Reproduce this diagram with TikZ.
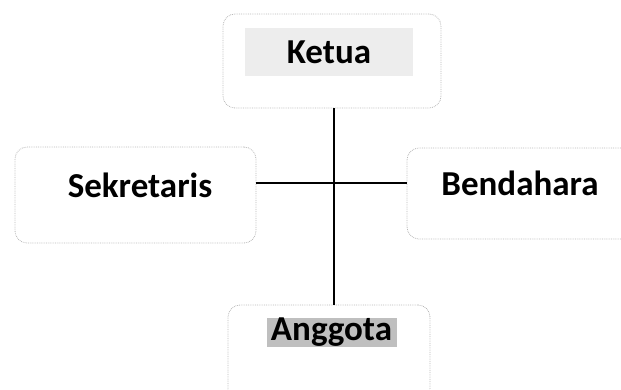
\documentclass[tikz,border=0pt]{standalone}
\usepackage{fontspec}
\setmainfont{Carlito}
\usepackage{tikz}
\usetikzlibrary{positioning}

\begin{document}
\begin{tikzpicture}[
	x=1pt, y=1pt,
	texts/.style = {font=\fontsize{35}{40}\selectfont\bfseries, text=black, inner sep=0pt},
	boxline/.style = {draw=gray!55, line width=0.8pt, densely dotted},
	orgbox/.style = {boxline, rectangle, rounded corners=12pt, fill=white},
	lightmark/.style = {texts, fill=gray!14},
	darkmark/.style = {texts, fill=gray!50},
	orgline/.style = {draw=black, line width=1.1pt}
]
	\useasboundingbox (0,0) rectangle (621,389);
	\clip (0,0) rectangle (621,389);

	% boxes
	\node[orgbox, minimum width=218pt, minimum height=94pt] (ketua) at (332,328) {};
	\node[orgbox, minimum width=241pt, minimum height=96pt] (sekretaris) at (135.5,194) {};
	\node[orgbox, minimum width=226pt, minimum height=91pt] (bendahara) at (520,195.5) {};
	\node[orgbox, minimum width=202pt, minimum height=96pt] (anggota) at (329,36) {};

	% connectors
	\draw[orgline] (ketua.south -| 334,0) -- (anggota.north -| 334,0);
	\draw[orgline] (sekretaris.east |- 0,206) -- (bendahara.west |- 0,206);

	% labels
	\node[lightmark, minimum width=168pt, minimum height=48pt] (ketuatext) at (329,337) {Ketua};
	\node[texts] (sekretaristext) at (140,204) {Sekretaris};
	\node[texts] (bendaharatext) at (520,206) {Bendahara};
	\node[darkmark, minimum width=130pt, minimum height=27pt] (anggotatext) at (331.5,56.5) {Anggota};
\end{tikzpicture}
\end{document}
